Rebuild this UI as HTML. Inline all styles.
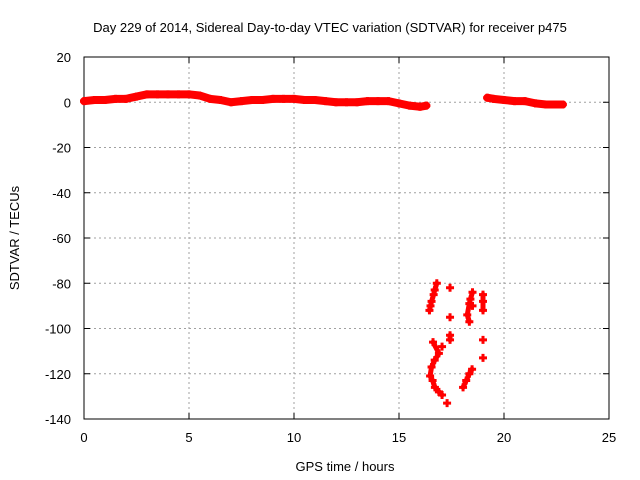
<!DOCTYPE html>
<html><head><meta charset="utf-8"><style>
body{margin:0;background:#fff}
svg{display:block;font-family:"Liberation Sans",sans-serif}
</style></head><body>
<svg id="chart" width="640" height="480" viewBox="0 0 640 480" xmlns="http://www.w3.org/2000/svg">
<rect width="640" height="480" fill="#fff"/>
<text x="330" y="32" text-anchor="middle" font-size="13">Day 229 of 2014, Sidereal Day-to-day VTEC variation (SDTVAR) for receiver p475</text>
<g id="grid"></g>
<g id="axes"></g>
<g id="series"></g>
<text x="345" y="471" text-anchor="middle" font-size="13">GPS time / hours</text>
<text transform="translate(19,238) rotate(-90)" text-anchor="middle" font-size="13">SDTVAR / TECUs</text>
</svg>
<script>
const xTicks=[0,5,10,15,20,25];
const yTicks=[20,0,-20,-40,-60,-80,-100,-120,-140];
const seg1T=[0,0.5,1,1.5,2,2.5,3,3.5,4,4.5,5,5.5,6,6.5,7,7.5,8,8.5,9,9.5,10,10.5,11,11.5,12,12.5,13,13.5,14,14.5,15,15.5,16,16.3];
const seg1V=[0.5,1,1,1.5,1.5,2.5,3.5,3.5,3.5,3.5,3.5,3,1.5,1,0,0.5,1,1,1.5,1.5,1.5,1,1,0.5,0,0,0,0.5,0.5,0.5,-0.5,-1.5,-2,-1.5];
const seg2T=[19.2,19.5,20,20.5,21,21.5,22,22.5,22.8];
const seg2V=[2,1.5,1,0.5,0.5,-0.5,-1,-1,-1];
const scatT=[16.8,16.7,16.65,16.55,16.5,16.45,17.43,17.43,17.43,17.43,18.5,18.4,18.35,18.25,18.35,18.5,19.0,19.0,19.0,19.0,19.0,16.62,17.05,16.9,16.7,16.55,16.48,16.6,16.71,16.9,17.05,17.29,18.48,18.35,18.2,18.05];
const scatV=[-80,-83,-85,-88,-90,-92,-82,-95,-103,-105,-84,-87,-89,-94,-97,-90,-85,-88,-92,-105,-113,-106,-108,-111,-114,-117,-121,-123,-126,-128,-129.4,-133,-118,-120,-123,-126];
const scatGroup=[1,1,1,1,1,1,0,0,2,2,3,3,3,3,3,0,4,4,4,0,0,5,0,5,5,5,5,5,5,5,5,0,6,6,6,6];
const X0=84,X1=609,Y0=57,Y1=419;
const xs=t=>X0+t/25*(X1-X0);
const ys=v=>Y0+(20-v)/160*(Y1-Y0);
const NS="http://www.w3.org/2000/svg";
function mk(tag,attrs,parent){const e=document.createElementNS(NS,tag);for(const k in attrs)e.setAttribute(k,attrs[k]);parent.appendChild(e);return e;}
const grid=document.getElementById('grid'),axes=document.getElementById('axes'),ser=document.getElementById('series');
xTicks.forEach(t=>{
 if(t>0&&t<25){const l=mk('line',{x1:xs(t),x2:xs(t),y1:Y0,y2:Y1,stroke:'#a0a0a0','stroke-dasharray':'2,3'},grid);
 
 }
 const tx=mk('text',{x:xs(t),y:Y1+23,'text-anchor':'middle','font-size':13},axes);tx.textContent=t;
 
 
 mk('line',{x1:xs(t),x2:xs(t),y1:Y1,y2:Y1-6,stroke:'#000'},axes);
 mk('line',{x1:xs(t),x2:xs(t),y1:Y0,y2:Y0+6,stroke:'#000'},axes);
});
yTicks.forEach(v=>{
 if(v<20&&v>-140){const l=mk('line',{x1:X0,x2:X1,y1:ys(v),y2:ys(v),stroke:'#a0a0a0','stroke-dasharray':'2,3'},grid);
 
 }
 const tx=mk('text',{x:X0-13,y:ys(v)+5,'text-anchor':'end','font-size':13},axes);tx.textContent=v;
 
 
 mk('line',{x1:X0,x2:X0+6,y1:ys(v),y2:ys(v),stroke:'#000'},axes);
 mk('line',{x1:X1,x2:X1-6,y1:ys(v),y2:ys(v),stroke:'#000'},axes);
});
const fr=mk('rect',{x:X0,y:Y0,width:X1-X0,height:Y1-Y0,fill:'none',stroke:'#000'},axes);


function band(T,V,name,w){
 const p=mk('polyline',{points:T.map((t,i)=>xs(t)+','+ys(V[i])).join(' '),fill:'none',stroke:'#f00','stroke-width':w,'stroke-linejoin':'round','stroke-linecap':'round'},ser);
 
 
}
band(seg1T,seg1V,'series-segment-1',8);
band(seg2T,seg2V,'series-segment-2',8);
for(let g=1;g<=6;g++){
 const T=[],V=[];
 scatT.forEach((t,i)=>{if(scatGroup[i]===g){T.push(t);V.push(scatV[i]);}});
 band(T,V,'scatter-cluster-'+g,5);
}
function plus(t,v){
 const x=xs(t),y=ys(v);
 const p=mk('path',{d:`M${x-4},${y}H${x+4}M${x},${y-4}V${y+4}`,stroke:'#f00','stroke-width':3},ser);
 
 
}
seg1T.forEach((t,i)=>plus(t,seg1V[i]));
seg2T.forEach((t,i)=>plus(t,seg2V[i]));
scatT.forEach((t,i)=>plus(t,scatV[i]));
</script>
</body></html>
